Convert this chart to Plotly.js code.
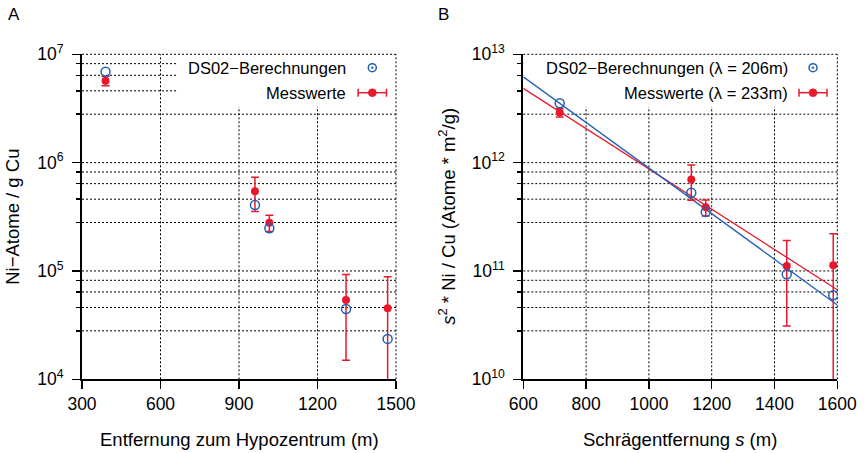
<!DOCTYPE html>
<html>
<head>
<meta charset="utf-8">
<script src="https://cdn.plot.ly/plotly-3.0.1.min.js"></script>
<style>html,body{margin:0;padding:0;background:#fff;}#chart{width:868px;height:453px;}</style>
</head>
<body>
<div id="chart"></div>
<script>
// ---- Panel A data: distance to hypocentre (m) ----
const distA = [390, 961, 1016, 1309, 1468];
const ds02A = [6.9e6, 4.07e5, 2.48e5, 4.46e4, 2.36e4];
const measA = [5.7e6, 5.44e5, 2.79e5, 5.4e4, 4.52e4];
const errA  = [0.57e6, 1.9e5, 4.8e4, 3.9e4, 4.3e4];

// ---- Panel B data: slant distance s (m) ----
const slantB = [716, 1135, 1181, 1439, 1587];
const ds02B  = [3.53e12, 5.28e11, 3.51e11, 9.32e10, 5.96e10];
const measB  = [2.9e12, 7.0e11, 3.87e11, 1.11e11, 1.13e11];
const errB   = [0.26e12, 2.5e11, 0.65e11, 0.8e11, 1.07e11];

// exponential fits (end points)
const fitS      = [600, 1600];
const fitDS02   = [6.2e12, 4.86e10];
const fitMeas   = [4.85e12, 6.7e10];

// ---- ticks ----
const xTicksA = [300, 600, 900, 1200, 1500];
const xTicksB = [600, 800, 1000, 1200, 1400, 1600];
const yTicksA = [1e4, 1e5, 1e6, 1e7];
const yTextA  = ['10<sup>4</sup>', '10<sup>5</sup>', '10<sup>6</sup>', '10<sup>7</sup>'];
const yTicksB = [1e10, 1e11, 1e12, 1e13];
const yTextB  = ['10<sup>10</sup>', '10<sup>11</sup>', '10<sup>12</sup>', '10<sup>13</sup>'];
const yMinorA = [2.8e4, 4.6e4, 6.4e4, 8.2e4, 2.8e5, 4.6e5, 6.4e5, 8.2e5, 2.8e6, 4.6e6, 6.4e6, 8.2e6];
const yMinorB = [2.8e10, 4.6e10, 6.4e10, 8.2e10, 2.8e11, 4.6e11, 6.4e11, 8.2e11, 2.8e12, 4.6e12, 6.4e12, 8.2e12];

// ---- labels ----
const legA1 = 'DS02\u2212Berechnungen';
const legA2 = 'Messwerte';
const legB1 = 'DS02\u2212Berechnungen (\u03bb = 206m)';
const legB2 = 'Messwerte (\u03bb = 233m)';

const BLUE = '#1f5fb6';
const RED = '#e8192c';
const FONT = 'Liberation Sans, Arial, Helvetica, sans-serif';
const W = 868, H = 453;
const px = v => v / W;
const py = v => 1 - v / H;

const xRangeA = [300, 1500], yRangeA = [4, 7];
const xRangeB = [600, 1600], yRangeB = [10, 13];

const traces = [
  { x: distA, y: measA, xaxis: 'x', yaxis: 'y', type: 'scatter', mode: 'markers',
    marker: { color: RED, size: 8 },
    error_y: { type: 'data', array: errA, visible: true, color: RED, thickness: 1.5, width: 4 } },
  { x: distA, y: ds02A, xaxis: 'x', yaxis: 'y', type: 'scatter', mode: 'markers',
    marker: { symbol: 'circle-open', color: BLUE, size: 9, line: { width: 1.5, color: BLUE } } },

  { x: fitS, y: fitMeas, xaxis: 'x2', yaxis: 'y2', type: 'scatter', mode: 'lines',
    line: { color: RED, width: 1.3 } },
  { x: fitS, y: fitDS02, xaxis: 'x2', yaxis: 'y2', type: 'scatter', mode: 'lines',
    line: { color: BLUE, width: 1.3 } },
  { x: slantB, y: measB, xaxis: 'x2', yaxis: 'y2', type: 'scatter', mode: 'markers',
    marker: { color: RED, size: 8 },
    error_y: { type: 'data', array: errB, visible: true, color: RED, thickness: 1.5, width: 4 } },
  { x: slantB, y: ds02B, xaxis: 'x2', yaxis: 'y2', type: 'scatter', mode: 'markers',
    marker: { symbol: 'circle-open', color: BLUE, size: 9, line: { width: 1.5, color: BLUE } } }
];

const AXLINE = { showgrid: false, showline: true, linecolor: '#000', linewidth: 2, ticks: 'outside', ticklen: 8,
                 tickwidth: 1.5, tickcolor: '#000', zeroline: false, mirror: false,
                 tickfont: { family: FONT, size: 17.5, color: '#000' } };

function yMinor(vals) {
  return { tickvals: vals, ticks: 'outside', ticklen: 4, tickwidth: 1.5, tickcolor: '#000', showgrid: false };
}

const yDom = [1 - 379.3 / H, 1 - 54.3 / H];
const DOT = { color: '#000', width: 1, dash: '2px,2px' };

// dotted grid drawn as domain-referenced shapes, below the opaque legend boxes
const shapes = [];
function gridFor(xr, yr, xTicks, yVals, xs, ys) {
  xTicks.forEach(v => {
    const f = (v - xr[0]) / (xr[1] - xr[0]);
    if (f > 0.001 && f < 0.999)
      shapes.push({ type: 'line', xref: xs + ' domain', yref: ys + ' domain', x0: f, x1: f, y0: 0, y1: 1,
                    line: DOT, layer: 'below' });
  });
  yVals.forEach(v => {
    const f = (Math.log10(v) - yr[0]) / (yr[1] - yr[0]);
    if (f > 0.001 && f < 0.999)
      shapes.push({ type: 'line', xref: xs + ' domain', yref: ys + ' domain', x0: 0, x1: 1, y0: f, y1: f,
                    line: DOT, layer: 'below' });
  });
}
gridFor(xRangeA, yRangeA, xTicksA, yTicksA.concat(yMinorA), 'x', 'y');
gridFor(xRangeB, yRangeB, xTicksB, yTicksB.concat(yMinorB), 'x2', 'y2');

// opaque legend boxes
shapes.push({ type: 'rect', xref: 'x domain', yref: 'y domain', x0: 0.306, x1: 1, y0: 0.838, y1: 1,
              fillcolor: '#fff', line: { width: 0 }, layer: 'below' });
shapes.push({ type: 'rect', xref: 'x2 domain', yref: 'y2 domain', x0: 0, x1: 1, y0: 0.838, y1: 1,
              fillcolor: '#fff', line: { width: 0 }, layer: 'below' });
// dotted top/right borders
[['x', 'y'], ['x2', 'y2']].forEach(([xs, ys]) => {
  shapes.push({ type: 'line', xref: xs + ' domain', yref: ys + ' domain', x0: 0, x1: 1, y0: 1, y1: 1, line: DOT, layer: 'above' });
  shapes.push({ type: 'line', xref: xs + ' domain', yref: ys + ' domain', x0: 1, x1: 1, y0: 0, y1: 1, line: DOT, layer: 'above' });
});
// legend symbols
function legendSymbols(cx, cyBlue, cyRed, half) {
  shapes.push({ type: 'circle', xref: 'paper', yref: 'paper', xsizemode: 'pixel', ysizemode: 'pixel',
    xanchor: px(cx), yanchor: py(cyBlue), x0: -4, x1: 4, y0: -4, y1: 4, line: { color: BLUE, width: 1.5 }, layer: 'above' });
  shapes.push({ type: 'circle', xref: 'paper', yref: 'paper', xsizemode: 'pixel', ysizemode: 'pixel',
    xanchor: px(cx), yanchor: py(cyBlue), x0: -0.8, x1: 0.8, y0: -0.8, y1: 0.8, fillcolor: BLUE,
    line: { color: BLUE, width: 1 }, layer: 'above' });
  shapes.push({ type: 'line', xref: 'paper', yref: 'paper', x0: px(cx - half), x1: px(cx + half), y0: py(cyRed), y1: py(cyRed),
    line: { color: RED, width: 1.5 }, layer: 'above' });
  shapes.push({ type: 'line', xref: 'paper', yref: 'paper', x0: px(cx - half), x1: px(cx - half), y0: py(cyRed - 4), y1: py(cyRed + 4),
    line: { color: RED, width: 1.5 }, layer: 'above' });
  shapes.push({ type: 'line', xref: 'paper', yref: 'paper', x0: px(cx + half), x1: px(cx + half), y0: py(cyRed - 4), y1: py(cyRed + 4),
    line: { color: RED, width: 1.5 }, layer: 'above' });
  shapes.push({ type: 'circle', xref: 'paper', yref: 'paper', xsizemode: 'pixel', ysizemode: 'pixel',
    xanchor: px(cx), yanchor: py(cyRed), x0: -4, x1: 4, y0: -4, y1: 4, fillcolor: RED,
    line: { color: RED, width: 0.5 }, layer: 'above' });
}
legendSymbols(372.3, 67.7, 92.7, 14.2);
legendSymbols(813, 67.7, 92.7, 14);

const layout = {
  width: W, height: H,
  margin: { l: 0, r: 0, t: 0, b: 0 },
  paper_bgcolor: '#fff', plot_bgcolor: '#fff',
  showlegend: false,
  font: { family: FONT, size: 17, color: '#000' },
  xaxis: Object.assign({ domain: [82 / W, 396 / W], range: xRangeA, tickmode: 'array',
    tickvals: xTicksA, anchor: 'y' }, AXLINE),
  yaxis: Object.assign({ domain: yDom, type: 'log', range: yRangeA, tickmode: 'array',
    tickvals: yTicksA, ticktext: yTextA, anchor: 'x', minor: yMinor(yMinorA), ticklabelstandoff: 5 }, AXLINE),
  xaxis2: Object.assign({ domain: [523.3 / W, 837.3 / W], range: xRangeB, tickmode: 'array',
    tickvals: xTicksB, anchor: 'y2' }, AXLINE),
  yaxis2: Object.assign({ domain: yDom, type: 'log', range: yRangeB, tickmode: 'array',
    tickvals: yTicksB, ticktext: yTextB, anchor: 'x2', minor: yMinor(yMinorB), ticklabelstandoff: 5 }, AXLINE),
  shapes: shapes,
  annotations: [
    { text: 'A', xref: 'paper', yref: 'paper', x: px(6), y: py(15), xanchor: 'left', yanchor: 'middle',
      showarrow: false, font: { family: FONT, size: 17 } },
    { text: 'B', xref: 'paper', yref: 'paper', x: px(436), y: py(15), xanchor: 'left', yanchor: 'middle',
      showarrow: false, font: { family: FONT, size: 17 } },
    { text: 'Entfernung zum Hypozentrum (m)', xref: 'paper', yref: 'paper', x: px(239), y: py(439),
      xanchor: 'center', yanchor: 'middle', showarrow: false, font: { family: FONT, size: 18.5 } },
    { text: 'Schrägentfernung <i>s</i> (m)', xref: 'paper', yref: 'paper', x: px(680), y: py(439),
      xanchor: 'center', yanchor: 'middle', showarrow: false, font: { family: FONT, size: 18.5 } },
    { text: 'Ni\u2212Atome / g Cu', xref: 'paper', yref: 'paper', x: px(13), y: py(216.8),
      xanchor: 'center', yanchor: 'middle', textangle: -90, showarrow: false, font: { family: FONT, size: 18.5 } },
    { text: '<i>s</i><sup>2</sup> * Ni / Cu (Atome * m<sup>2</sup>/g)', xref: 'paper', yref: 'paper', x: px(447), y: py(216.8),
      xanchor: 'center', yanchor: 'middle', textangle: -90, showarrow: false, font: { family: FONT, size: 18.5 } },
    { text: legA1, xref: 'paper', yref: 'paper', x: px(348), y: py(68), xanchor: 'right', yanchor: 'middle',
      showarrow: false, font: { family: FONT, size: 16.5 } },
    { text: legA2, xref: 'paper', yref: 'paper', x: px(348), y: py(93), xanchor: 'right', yanchor: 'middle',
      showarrow: false, font: { family: FONT, size: 16.5 } },
    { text: legB1, xref: 'paper', yref: 'paper', x: px(789.5), y: py(68), xanchor: 'right', yanchor: 'middle',
      showarrow: false, font: { family: FONT, size: 16.5 } },
    { text: legB2, xref: 'paper', yref: 'paper', x: px(789.5), y: py(93), xanchor: 'right', yanchor: 'middle',
      showarrow: false, font: { family: FONT, size: 16.5 } }
  ]
};

Plotly.newPlot('chart', traces, layout, { displayModeBar: false, staticPlot: true });
</script>
</body>
</html>
